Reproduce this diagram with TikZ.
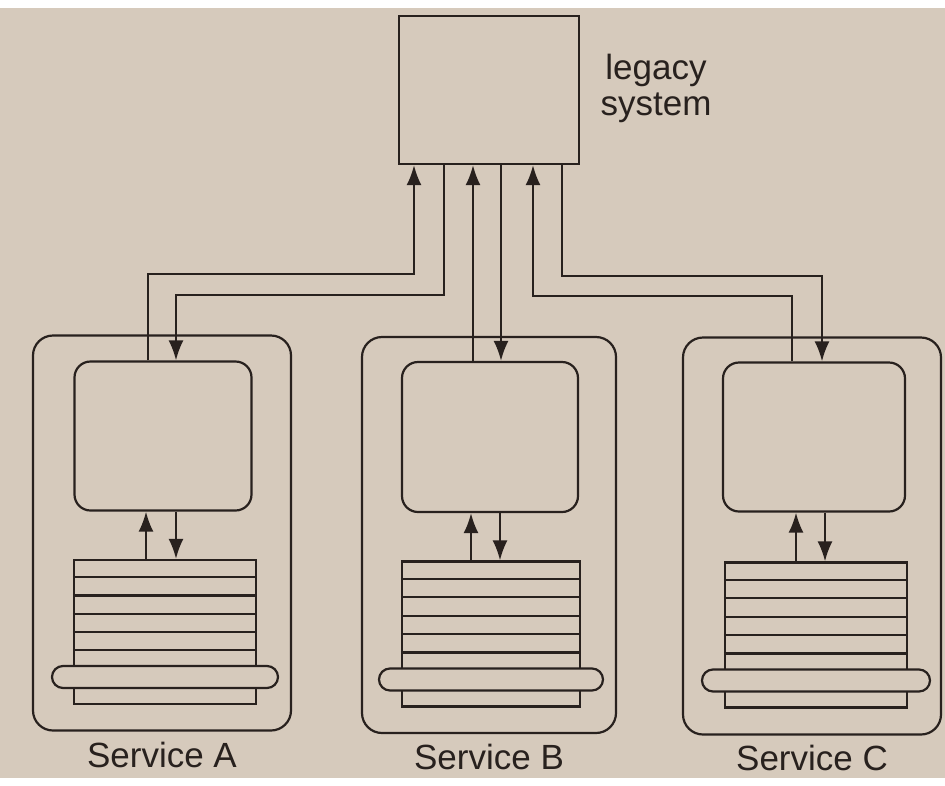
\documentclass[tikz,border=0pt]{standalone}
\usepackage{fontspec}
\setmainfont{Liberation Sans}
\usepackage{xcolor}
\usepackage{tikz}
\usetikzlibrary{arrows.meta, positioning, calc}

\definecolor{paper}{RGB}{214,202,188}
\definecolor{ink}{RGB}{40,33,30}

\begin{document}
\begin{tikzpicture}[x=1pt, y=-1pt, color=ink, line width=2.2pt,
  flow/.style={-{Latex[length=20pt, width=15pt]}},
  svcbox/.style={draw, rectangle, rounded corners=20pt, inner sep=0pt},
  appbox/.style={draw, rectangle, rounded corners=16pt, inner sep=0pt},
  dbbox/.style={draw, rectangle, inner sep=0pt, minimum width=182pt, minimum height=144pt},
  ring/.style={draw, rectangle, fill=paper, rounded corners=11pt, minimum height=22pt, inner sep=0pt},
  lbl/.style={font=\fontsize{35}{36}\selectfont, inner sep=0pt}]
\useasboundingbox (0,0) rectangle (945,785);
\fill[paper] (0,8) rectangle (945,778);

% legacy system
\node[draw, rectangle, minimum width=180pt, minimum height=148pt] (legacy) at (489,90) {};
\node[lbl, align=center] (legacylbl) at (656,88) {legacy\\system};

% three services
\node[svcbox, minimum width=258pt, minimum height=395pt] (svcA) at (162,533) {};
\node[svcbox, minimum width=254pt, minimum height=396pt] (svcB) at (489,535) {};
\node[svcbox, minimum width=258pt, minimum height=397pt] (svcC) at (812,536) {};

\node[appbox, minimum width=177pt, minimum height=149pt] (appA) at (163,436) {};
\node[appbox, minimum width=176pt, minimum height=150pt] (appB) at (490,437) {};
\node[appbox, minimum width=182pt, minimum height=149pt] (appC) at (814,437) {};

\node[dbbox] (dbA) at (165,632) {};
\node[dbbox, minimum width=178pt, minimum height=145pt] (dbB) at (491,634) {};
\node[dbbox, minimum height=145pt] (dbC) at (816,635) {};

% shelves of the stores
\foreach \s in {A,B,C}
  \foreach \k in {1,...,7}
    \draw ($(db\s.north west)!\k/8!(db\s.south west)$) -- ($(db\s.north east)!\k/8!(db\s.south east)$);

\node[ring, minimum width=226pt, above=16pt of dbA.south] (ringA) {};
\node[ring, minimum width=224pt, above=16pt of dbB.south] (ringB) {};
\node[ring, minimum width=228pt, above=16pt of dbC.south] (ringC) {};

\node[lbl, below=9pt of svcA] (nameA) {Service A};
\node[lbl, below=9pt of svcB] (nameB) {Service B};
\node[lbl, below=8pt of svcC] (nameC) {Service C};

% app <-> store
\draw[flow] (dbA.north -| 146,0) -- (appA.south -| 146,0);
\draw[flow] (appA.south -| 176,0) -- (dbA.north -| 176,0);
\draw[flow] (dbB.north -| 471,0) -- (appB.south -| 471,0);
\draw[flow] (appB.south -| 500,0) -- (dbB.north -| 500,0);
\draw[flow] (dbC.north -| 796,0) -- (appC.south -| 796,0);
\draw[flow] (appC.south -| 825,0) -- (dbC.north -| 825,0);

% app <-> legacy
\coordinate (aUp) at (148,274);
\coordinate (aDn) at (176,295);
\coordinate (cUp) at (792,296);
\coordinate (cDn) at (822,276);

\draw[flow] (appA.north -| aUp) -- (aUp) -| (legacy.south -| 414,0);
\draw[flow] (legacy.south -| 444,0) |- (aDn) -- (appA.north -| aDn);
\draw[flow] (appB.north -| 473,0) -- (legacy.south -| 473,0);
\draw[flow] (legacy.south -| 501,0) -- (appB.north -| 501,0);
\draw[flow] (appC.north -| cUp) -- (cUp) -| (legacy.south -| 533,0);
\draw[flow] (legacy.south -| 562,0) |- (cDn) -- (appC.north -| cDn);
\end{tikzpicture}
\end{document}
